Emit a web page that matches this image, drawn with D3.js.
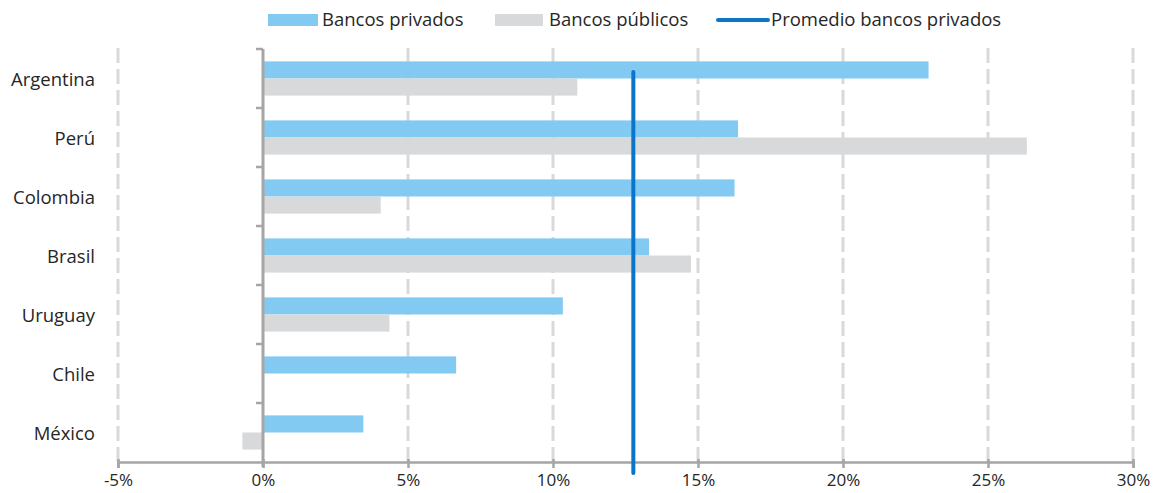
<!DOCTYPE html>
<html><head><meta charset="utf-8">
<script src="https://cdn.jsdelivr.net/npm/d3@7/dist/d3.min.js"></script>
<style>body{margin:0;background:#fff}svg{display:block}text{font-family:"Open Sans",sans-serif;fill:#262626}</style>
</head><body><svg id="c" width="1159" height="493"></svg>
<script>
const countries = ["Argentina","Perú","Colombia","Brasil","Uruguay","Chile","México"];
const privados = [22.95, 16.38, 16.26, 13.31, 10.34, 6.66, 3.46];
const publicos = [10.84, 26.34, 4.06, 14.76, 4.36, null, -0.71];
const promedioPrivados = 12.77;
const xTicks = [-5,0,5,10,15,20,25,30];
const seriesNames = ["Bancos privados","Bancos públicos","Promedio bancos privados"];
const colors = {priv:"#83caf3", pub:"#d8d9db", avg:"#0b75c9", grid:"#d9d9d9", axis:"#a5a5a5"};

const svg = d3.select("#c");
const x = d3.scaleLinear().domain([-5,30]).range([118,1133]);
const yTop = 49, yBottom = 462;
const y = d3.scaleBand().domain(countries).range([yTop,yBottom]).paddingInner(0.42).paddingOuter(0.21);
const sub = d3.scaleBand().domain(["priv","pub"]).range([0,y.bandwidth()]);
const step = y.step();

// gridlines
svg.append("g").selectAll("line").data(xTicks.filter(d=>d!==0)).join("line")
  .attr("x1",d=>x(d)).attr("x2",d=>x(d)).attr("y1",yTop-1).attr("y2",yBottom)
  .attr("stroke",colors.grid).attr("stroke-width",3).attr("stroke-dasharray","15,6");

// bars
const g = svg.append("g");
g.selectAll("rect.priv").data(countries).join("rect").attr("class","priv")
  .attr("x",(d,i)=>x(Math.min(0,privados[i]))).attr("width",(d,i)=>Math.abs(x(privados[i])-x(0)))
  .attr("y",d=>y(d)+sub("priv")).attr("height",sub.bandwidth()).attr("fill",colors.priv);
g.selectAll("rect.pub").data(countries.filter((d,i)=>publicos[i]!==null)).join("rect").attr("class","pub")
  .attr("x",d=>{const v=publicos[countries.indexOf(d)];return x(Math.min(0,v));})
  .attr("width",d=>{const v=publicos[countries.indexOf(d)];return Math.abs(x(v)-x(0));})
  .attr("y",d=>y(d)+sub("pub")).attr("height",sub.bandwidth()).attr("fill",colors.pub);

// x axis
const xAxis = d3.axisBottom(x).tickValues(xTicks).tickFormat(d=>d+"%").tickSize(6).tickPadding(6);
const xa = svg.append("g").attr("transform",`translate(0,${yBottom})`).call(xAxis);
xa.select(".domain").attr("stroke",colors.axis).attr("stroke-width",2.5);
xa.selectAll(".tick line").attr("stroke",colors.axis).attr("stroke-width",2.5).attr("y1",-3);
xa.selectAll(".tick text").attr("font-size",17).attr("fill","#262626").style("font-family","'Open Sans',sans-serif");

// y axis
const ya = svg.append("g").attr("transform",`translate(${x(0)},0)`);
ya.append("line").attr("x1",0).attr("x2",0).attr("y1",yTop).attr("y2",yBottom+5).attr("stroke",colors.axis).attr("stroke-width",3);
const bounds = d3.range(countries.length+1).map(i=>yTop+i*step);
ya.selectAll("line.t").data(bounds.slice(0,-1)).join("line").attr("class","t")
  .attr("x1",-7).attr("x2",0).attr("y1",d=>d).attr("y2",d=>d).attr("stroke",colors.axis).attr("stroke-width",2.5);
svg.append("g").selectAll("text").data(countries).join("text")
  .attr("x",95).attr("y",d=>y(d)+y.bandwidth()/2+1).attr("dy","0.35em")
  .attr("text-anchor","end").attr("font-size",18.5).text(d=>d);

// average line
svg.append("line").attr("x1",x(promedioPrivados)).attr("x2",x(promedioPrivados))
  .attr("y1",y(countries[0])+sub.bandwidth()/2+2).attr("y2",yBottom+11)
  .attr("stroke",colors.avg).attr("stroke-width",4).attr("stroke-linecap","round");

// legend
const lg = svg.append("g");
const lx = [268,495,716];
lg.append("rect").attr("x",lx[0]).attr("y",14).attr("width",50).attr("height",12).attr("fill",colors.priv);
lg.append("rect").attr("x",lx[1]).attr("y",14).attr("width",48).attr("height",12).attr("fill",colors.pub);
lg.append("line").attr("x1",lx[2]+2).attr("x2",lx[2]+52).attr("y1",20).attr("y2",20).attr("stroke",colors.avg).attr("stroke-width",4).attr("stroke-linecap","round");
const tx = [322,549,771];
lg.selectAll("text").data(seriesNames).join("text").attr("x",(d,i)=>tx[i]).attr("y",20).attr("dy","0.35em")
  .attr("font-size",18.5).text(d=>d);
</script></body></html>
